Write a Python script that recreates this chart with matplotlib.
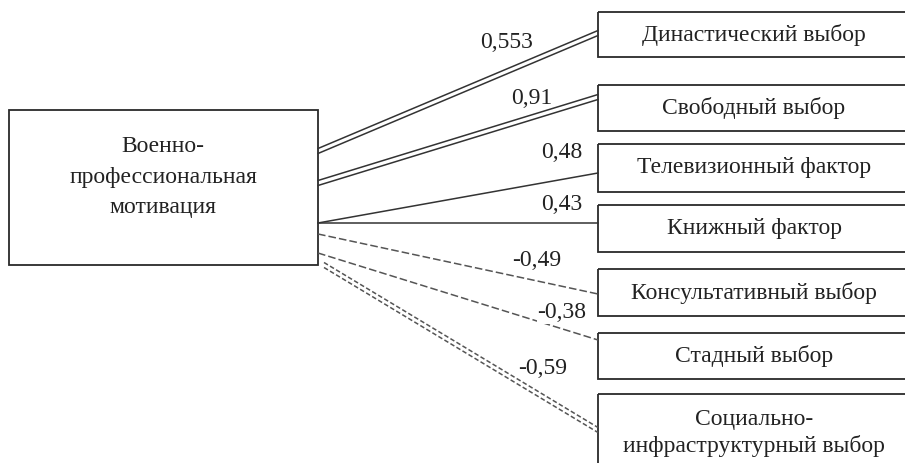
import matplotlib.pyplot as plt
from matplotlib.patches import Rectangle

# data
source = "Военно-\nпрофессиональная\nмотивация"
factors = ["Династический выбор", "Свободный выбор", "Телевизионный фактор",
           "Книжный фактор", "Консультативный выбор", "Стадный выбор",
           "Социально-\nинфраструктурный выбор"]
coefs = ["0,553", "0,91", "0,48", "0,43", "-0,49", "-0,38", "-0,59"]

# layout (pixels, y down)
box_top = [12, 85, 144, 205, 269, 333, 394]
box_bot = [57, 131, 192, 252, 316, 379, 470]
line_y0 = [151, 183, 223, 223, 234, 253, 265]
line_y1 = [33, 97, 173, 223, 294, 340, 430]
line_x0 = [318, 318, 318, 318, 318, 318, 324]
double = [True, True, False, False, False, False, True]
dashed = [False, False, False, False, True, True, True]
lab_xy = [(507, 43), (532, 98), (562, 152), (562, 205),
          (537, 261), (562, 313), (543, 368)]

plt.rcParams['font.family'] = ['Liberation Serif', 'DejaVu Serif']
fs = 17

fig = plt.figure(figsize=(9.05, 4.63), dpi=100)
ax = fig.add_axes([0, 0, 1, 1])
ax.set_xlim(0, 905)
ax.set_ylim(463, 0)
ax.axis('off')

edge = '#2a2a2a'
ax.add_patch(Rectangle((9, 110), 309, 155, fill=False, ec=edge, lw=1.3))
ax.text(163, 177, source, ha='center', va='center', fontsize=fs,
        color='#222222', linespacing=1.6)

bx0, bx1 = 598, 912
for i, name in enumerate(factors):
    ax.add_patch(Rectangle((bx0, box_top[i]), bx1 - bx0, box_bot[i] - box_top[i],
                           fill=False, ec=edge, lw=1.3, clip_on=True))
    cy = (box_top[i] + box_bot[i]) / 2
    if i == len(factors) - 1:
        cy = 433
    ax.text(754, cy, name, ha='center', va='center', fontsize=fs,
            color='#222222', linespacing=1.3)

    off = [-2.5, 2.5] if double[i] else [0]
    ls = '-'
    col = '#333333'
    if dashed[i]:
        ls = (0, (3, 1.6)) if double[i] else (0, (5, 2))
        col = '#555555'
    for o in off:
        ax.plot([line_x0[i], bx0], [line_y0[i] + o, line_y1[i] + o],
                ls=ls, color=col, lw=1.1)

    ax.text(lab_xy[i][0], lab_xy[i][1], coefs[i], ha='center', va='center',
            fontsize=fs, color='#222222',
            bbox=dict(fc='white', ec='none', pad=0.5) if i == 5 else None)

fig.savefig('out.png', dpi=100)
